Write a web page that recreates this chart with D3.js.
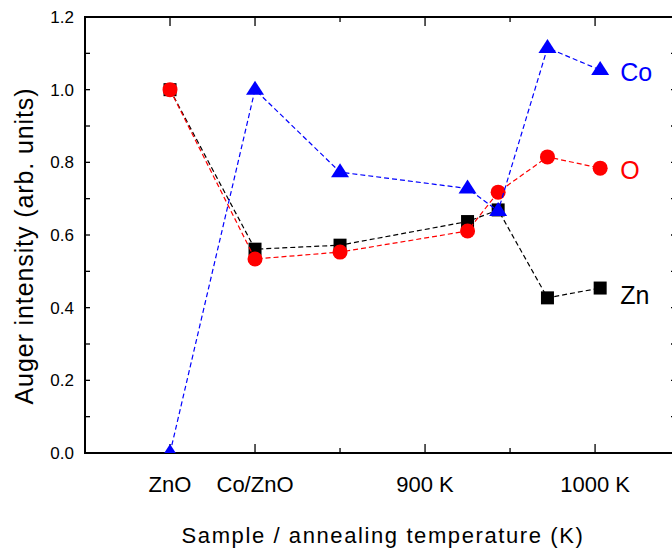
<!DOCTYPE html>
<html>
<head>
<meta charset="utf-8">
<script src="https://cdn.jsdelivr.net/npm/d3@7"></script>
<style>
  body { margin: 0; background: #fff; }
  svg { display: block; font-family: "Liberation Sans", Arial, sans-serif; }
</style>
</head>
<body>
<svg id="chart"></svg>
<script>
// data (x = annealing temperature, K)
const temps = [750, 800, 850, 925, 943, 972, 1003];
const znVals = [1.0, 0.561, 0.572, 0.637, 0.669, 0.427, 0.454];
const oVals = [1.0, 0.534, 0.553, 0.611, 0.718, 0.815, 0.784];
const coVals = [0.0, 1.0, 0.773, 0.728, 0.666, 1.115, 1.054];

const xTickVals = [750, 800, 850, 900, 950, 1000];
const xTickLabels = ["ZnO", "Co/ZnO", "", "900 K", "", "1000 K"];
const yTickVals = [0, 0.1, 0.2, 0.3, 0.4, 0.5, 0.6, 0.7, 0.8, 0.9, 1.0, 1.1, 1.2];

const width = 672, height = 552;
const pLeft = 85, pRight = 676, pTop = 17, pBottom = 453;

const svg = d3.select("#chart")
    .attr("width", width)
    .attr("height", height);

const x = d3.scaleLinear().domain([700, 1047.6]).range([pLeft, pRight]);
const y = d3.scaleLinear().domain([0, 1.2]).range([pBottom, pTop]);

// clip for the plotting area
svg.append("clipPath").attr("id", "plot")
    .append("rect")
    .attr("x", pLeft).attr("y", pTop)
    .attr("width", pRight - pLeft).attr("height", pBottom - pTop);

// ticks: inward on all four sides
const tickG = svg.append("g").attr("stroke", "#000").attr("stroke-width", 1.3);
yTickVals.forEach(v => {
    tickG.append("line").attr("x1", pLeft).attr("x2", pLeft + 5)
        .attr("y1", y(v)).attr("y2", y(v));
    tickG.append("line").attr("x1", pRight).attr("x2", pRight - 5)
        .attr("y1", y(v)).attr("y2", y(v));
});
xTickVals.forEach((v, i) => {
    const len = xTickLabels[i] === "" ? 5 : 9;
    tickG.append("line").attr("x1", x(v)).attr("x2", x(v))
        .attr("y1", pBottom).attr("y2", pBottom - len);
    tickG.append("line").attr("x1", x(v)).attr("x2", x(v))
        .attr("y1", pTop).attr("y2", pTop + len);
});

// frame
svg.append("rect")
    .attr("x", pLeft).attr("y", pTop)
    .attr("width", pRight - pLeft).attr("height", pBottom - pTop)
    .attr("fill", "none")
    .attr("stroke", "#000")
    .attr("stroke-width", 2);

// y tick labels
svg.append("g").selectAll("text")
    .data(yTickVals.filter((v, i) => i % 2 === 0))
    .enter()
    .append("text")
    .attr("x", pLeft - 11)
    .attr("y", d => y(d) + 6)
    .attr("text-anchor", "end")
    .attr("font-size", "17px")
    .text(d => d.toFixed(1));

// x tick labels
svg.append("g").selectAll("text")
    .data(xTickVals)
    .enter()
    .append("text")
    .attr("x", d => x(d))
    .attr("y", pBottom + 39)
    .attr("text-anchor", "middle")
    .attr("font-size", "22px")
    .text((d, i) => xTickLabels[i]);

// axis titles
svg.append("text")
    .attr("x", 383)
    .attr("y", 543)
    .attr("text-anchor", "middle")
    .attr("font-size", "22px")
    .attr("letter-spacing", "1.6px")
    .text("Sample / annealing temperature (K)");

svg.append("text")
    .attr("transform", "translate(33,246) rotate(-90)")
    .attr("text-anchor", "middle")
    .attr("font-size", "25px")
    .attr("letter-spacing", "0.9px")
    .text("Auger intensity (arb. units)");

// series
const series = [
    { name: "Zn", vals: znVals, color: "#000000", shape: "square", labelY: 0.435 },
    { name: "O", vals: oVals, color: "#ff0000", shape: "circle", labelY: 0.78 },
    { name: "Co", vals: coVals, color: "#0000ff", shape: "triangle", labelY: 1.05 }
];

const plot = svg.append("g").attr("clip-path", "url(#plot)");
const line = d3.line().x(d => x(d[0])).y(d => y(d[1]));

series.forEach(s => {
    const pts = temps.map((t, i) => [t, s.vals[i]]);
    plot.append("path")
        .attr("d", line(pts))
        .attr("fill", "none")
        .attr("stroke", s.color)
        .attr("stroke-width", 1.2)
        .attr("stroke-dasharray", "5,3");

    const g = plot.append("g").attr("fill", s.color);
    pts.forEach(p => {
        const cx = x(p[0]), cy = y(p[1]);
        if (s.shape === "square") {
            g.append("rect").attr("x", cx - 6.5).attr("y", cy - 6.5)
                .attr("width", 13).attr("height", 13);
        } else if (s.shape === "circle") {
            g.append("circle").attr("cx", cx).attr("cy", cy).attr("r", 7.5);
        } else {
            g.append("path")
                .attr("d", `M${cx},${cy - 9}L${cx + 9},${cy + 5}L${cx - 9},${cy + 5}Z`);
        }
    });

    // series label at the right end
    svg.append("text")
        .attr("x", x(temps[temps.length - 1]) + 20)
        .attr("y", y(s.labelY) + 9)
        .attr("font-size", "25px")
        .attr("fill", s.color)
        .text(s.name);
});
</script>
</body>
</html>
